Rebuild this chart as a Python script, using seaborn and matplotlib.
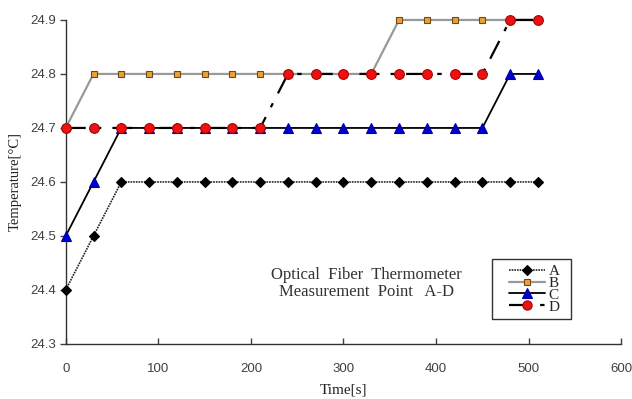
import numpy as np
import pandas as pd
import matplotlib
matplotlib.use("Agg")
import matplotlib.pyplot as plt
from matplotlib.patches import Rectangle
import seaborn as sns

time_s = [0, 30, 60, 90, 120, 150, 180, 210, 240, 270, 300, 330, 360, 390, 420, 450, 480, 510]
temp_A = [24.4, 24.5, 24.6, 24.6, 24.6, 24.6, 24.6, 24.6, 24.6, 24.6, 24.6, 24.6, 24.6, 24.6, 24.6, 24.6, 24.6, 24.6]
temp_B = [24.7, 24.8, 24.8, 24.8, 24.8, 24.8, 24.8, 24.8, 24.8, 24.8, 24.8, 24.8, 24.9, 24.9, 24.9, 24.9, 24.9, 24.9]
temp_C = [24.5, 24.6, 24.7, 24.7, 24.7, 24.7, 24.7, 24.7, 24.7, 24.7, 24.7, 24.7, 24.7, 24.7, 24.7, 24.7, 24.8, 24.8]
temp_D = [24.7, 24.7, 24.7, 24.7, 24.7, 24.7, 24.7, 24.7, 24.8, 24.8, 24.8, 24.8, 24.8, 24.8, 24.8, 24.8, 24.9, 24.9]
series_names = ["A", "B", "C", "D"]
x_ticks = [0, 100, 200, 300, 400, 500, 600]
y_ticks = [24.3, 24.4, 24.5, 24.6, 24.7, 24.8, 24.9]

sns.set_style("white")
plt.rcParams['font.family'] = ['Liberation Serif', 'DejaVu Serif']

fig = plt.figure(figsize=(6.32, 3.99), dpi=100)
ax = fig.add_axes([0.104, 0.138, 0.879, 0.812])

df = pd.DataFrame({"t": time_s, "A": temp_A, "B": temp_B, "C": temp_C, "D": temp_D})

styles = {
    "A": dict(color="#222222", lw=1.2, ls=(0, (1, 0.6)), marker="D", mfc="black", mec="black", ms=5, zorder=3),
    "B": dict(color="#999999", lw=1.6, ls="-", marker="s", mfc="#f0a030", mec="#6a4a20", ms=5, zorder=4),
    "C": dict(color="black", lw=1.3, ls="-", marker="^", mfc="#0000cc", mec="#0000aa", ms=7, zorder=5),
    "D": dict(color="black", lw=1.6, ls=(0, (9, 5, 2, 5)), marker="o", mfc="#ee1111", mec="#aa0000", ms=7, zorder=6),
}

for name in series_names:
    st = styles[name]
    sns.lineplot(data=df, x="t", y=name, ax=ax, color=st["color"], linewidth=st["lw"],
                 linestyle=st["ls"], marker=st["marker"], markerfacecolor=st["mfc"],
                 markeredgecolor=st["mec"], markersize=st["ms"], markeredgewidth=0.8,
                 zorder=st["zorder"], label=name, clip_on=False)

ax.set_xlim(0, 600)
ax.set_ylim(24.3, 24.9)
ax.set_xticks(x_ticks)
ax.set_yticks(y_ticks)
ax.set_xticklabels([str(v) for v in x_ticks], fontsize=9.5, color="#404040", family="Liberation Sans")
ax.set_yticklabels([f"{v:.1f}" for v in y_ticks], fontsize=9.5, color="#404040", family="Liberation Sans")
ax.tick_params(axis="x", direction="in", length=4, width=1, color="#404040", pad=14)
ax.tick_params(axis="y", direction="out", length=4, width=1, color="#404040", pad=3, left=True)
ax.tick_params(axis="x", bottom=True)

for s in ["top", "right"]:
    ax.spines[s].set_visible(False)
for s in ["left", "bottom"]:
    ax.spines[s].set_color("#333333")
    ax.spines[s].set_linewidth(1.0)

ax.set_xlabel("Time[s]", fontsize=11, color="#222222", labelpad=6)
ax.set_ylabel("Temperature[°C]", fontsize=10.5, color="#222222", labelpad=6)

ax.text(325, 24.412, "Optical  Fiber  Thermometer\nMeasurement  Point   A-D", ha="center", va="center",
        fontsize=12, color="#333333", linespacing=1.05)

# legend frame (box) and legend content
box = Rectangle((0.768, 0.077), 0.142, 0.185, transform=ax.transAxes, fill=True,
                facecolor="white", edgecolor="#333333", linewidth=1.0, zorder=8)
ax.add_patch(box)
leg = ax.legend(loc="center", bbox_to_anchor=(0.843, 0.1695), fontsize=11, frameon=False,
                handlelength=2.4, handletextpad=0.2, labelspacing=-0.12, markerscale=0.95,
                borderpad=0.0, borderaxespad=0)
leg.set_zorder(9)

fig.savefig("out.png", dpi=100)
